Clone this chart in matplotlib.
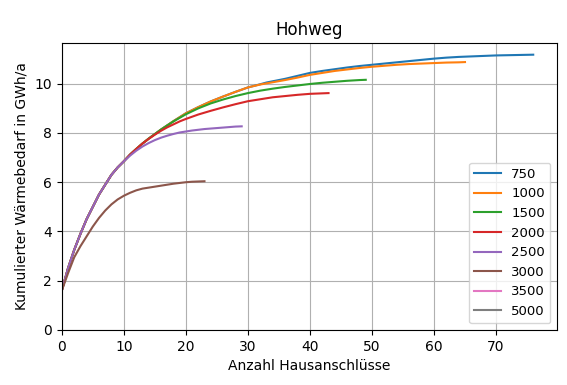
import matplotlib
matplotlib.use("Agg")
import matplotlib.pyplot as plt

# Kumulierter Wärmebedarf je Schwellwert (GWh/a) über Anzahl Hausanschlüsse
labels = ["750", "1000", "1500", "2000", "2500", "3000", "3500", "5000"]

x_750 = [0, 1, 2, 3, 4, 5, 6, 7, 8, 9, 10, 11, 12, 13, 14, 16, 18, 20, 22, 24, 26, 28, 30, 32,
         33, 34, 36, 38, 40, 42, 44, 46, 48, 50, 52, 54, 56, 58, 60, 62, 64, 66, 68, 70, 72,
         74, 76]
y_750 = [1.6, 2.5, 3.25, 3.9, 4.5, 5.0, 5.5, 5.9, 6.3, 6.6, 6.85, 7.12, 7.35, 7.57, 7.77, 8.14,
         8.48, 8.8, 9.05, 9.28, 9.48, 9.67, 9.85, 9.98, 10.05, 10.1, 10.2, 10.32, 10.44, 10.52,
         10.59, 10.66, 10.72, 10.77, 10.82, 10.87, 10.92, 10.97, 11.02, 11.06, 11.09, 11.11,
         11.13, 11.15, 11.16, 11.17, 11.18]

x_1000 = [0, 1, 2, 3, 4, 5, 6, 7, 8, 9, 10, 11, 12, 13, 14, 16, 18, 20, 22, 24, 26, 28, 30, 32,
          34, 36, 38, 40, 42, 44, 46, 48, 50, 52, 54, 56, 58, 60, 62, 64, 65]
y_1000 = [1.6, 2.5, 3.25, 3.9, 4.5, 5.0, 5.5, 5.9, 6.3, 6.6, 6.85, 7.12, 7.35, 7.57, 7.77, 8.14,
          8.48, 8.8, 9.05, 9.28, 9.48, 9.67, 9.85, 9.97, 10.06, 10.15, 10.25, 10.36, 10.44,
          10.52, 10.58, 10.64, 10.69, 10.73, 10.77, 10.8, 10.82, 10.84, 10.86, 10.87, 10.88]

x_1500 = [0, 1, 2, 3, 4, 5, 6, 7, 8, 9, 10, 11, 12, 13, 14, 16, 18, 20, 22, 24, 26, 28, 30, 32,
          34, 36, 38, 40, 42, 44, 46, 48, 49]
y_1500 = [1.6, 2.5, 3.25, 3.9, 4.5, 5.0, 5.5, 5.9, 6.3, 6.6, 6.85, 7.12, 7.35, 7.57, 7.77, 8.14,
          8.47, 8.76, 9.0, 9.2, 9.36, 9.5, 9.62, 9.72, 9.8, 9.87, 9.93, 9.99, 10.04, 10.08,
          10.12, 10.15, 10.16]

x_2000 = [0, 1, 2, 3, 4, 5, 6, 7, 8, 9, 10, 11, 12, 13, 14, 15, 16, 17, 18, 19, 20, 22, 24,
          26, 28, 30, 32, 34, 36, 38, 40, 42, 43]
y_2000 = [1.6, 2.5, 3.25, 3.9, 4.5, 5.0, 5.5, 5.9, 6.3, 6.6, 6.85, 7.12, 7.35, 7.57, 7.76, 7.93,
          8.09, 8.23, 8.35, 8.47, 8.57, 8.75, 8.9, 9.04, 9.17, 9.29, 9.37, 9.45, 9.5, 9.55,
          9.59, 9.61, 9.62]

x_2500 = [0, 1, 2, 3, 4, 5, 6, 7, 8, 9, 10, 11, 12, 13, 14, 15, 16, 17, 18, 19, 20, 21, 22,
          23, 24, 25, 26, 27, 28, 29]
y_2500 = [1.6, 2.5, 3.25, 3.9, 4.5, 5.0, 5.5, 5.9, 6.3, 6.6, 6.85, 7.08, 7.28, 7.45, 7.59, 7.71,
          7.81, 7.89, 7.96, 8.02, 8.06, 8.1, 8.13, 8.16, 8.18, 8.2, 8.22, 8.24, 8.26, 8.27]

x_3000 = [0, 1, 2, 3, 4, 5, 6, 7, 8, 9, 10, 11, 12, 13, 14, 15, 16, 17, 18, 19, 20, 21, 22, 23]
y_3000 = [1.6, 2.3, 2.95, 3.4, 3.8, 4.2, 4.55, 4.85, 5.1, 5.3, 5.45, 5.57, 5.67, 5.74, 5.78,
          5.82, 5.86, 5.9, 5.94, 5.97, 6.0, 6.02, 6.03, 6.04]

x_3500 = []
y_3500 = []
x_5000 = []
y_5000 = []

xs = [x_750, x_1000, x_1500, x_2000, x_2500, x_3000, x_3500, x_5000]
ys = [y_750, y_1000, y_1500, y_2000, y_2500, y_3000, y_3500, y_5000]

fig = plt.figure(figsize=(5.67, 3.85), dpi=100)
ax = fig.add_axes([0.109, 0.143, 0.873, 0.745])

for x, y, lab in zip(xs, ys, labels):
    ax.plot(x, y, label=lab)

ax.set_xlim(0, 79.8)
ax.set_ylim(0, 11.65)
ax.grid(True)
ax.set_title("Hohweg")
ax.set_xlabel("Anzahl Hausanschlüsse")
ax.set_ylabel("Kumulierter Wärmebedarf in GWh/a")
ax.legend(loc="lower right", fontsize=9.5)

fig.savefig("out.png", dpi=100)
